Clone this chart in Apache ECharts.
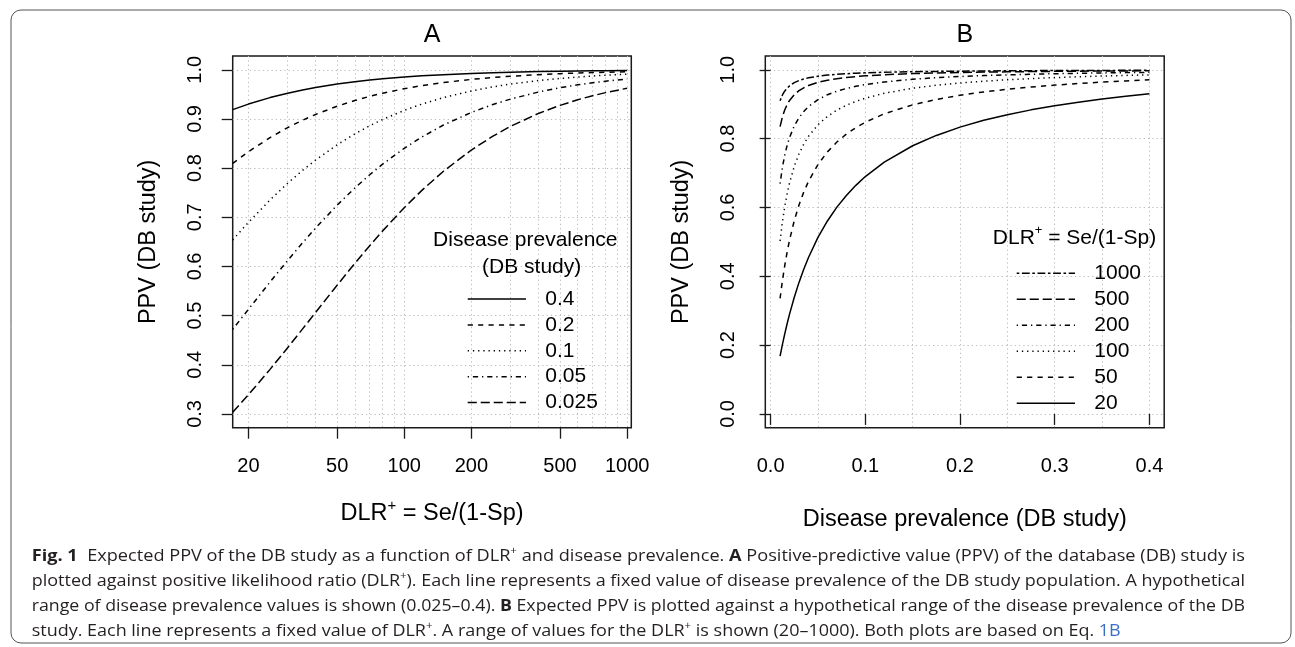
<!DOCTYPE html>
<html>
<head>
<meta charset="utf-8">
<script src="https://cdn.jsdelivr.net/npm/echarts@6/dist/echarts.min.js"></script>
<style>
html,body{margin:0;padding:0;background:#fff;}
#c{width:1295px;height:647px;}
</style>
</head>
<body>
<div id="c"></div>
<script>
// ---------------- DATA: panel A (PPV vs DLR+, one line per prevalence) ----------------
const dlrA = [17, 20, 25, 30, 35, 40, 50, 60, 70, 80, 100, 120, 150, 200, 250, 300, 400, 500, 600, 700, 800, 1000];
const prevalenceA = ['0.4', '0.2', '0.1', '0.05', '0.025'];
const ppvA_p040 = [0.9189, 0.9302, 0.9434, 0.9524, 0.9589, 0.9639, 0.9709, 0.9756, 0.9790, 0.9816, 0.9852, 0.9877, 0.9901, 0.9926, 0.9940, 0.9950, 0.9963, 0.9970, 0.9975, 0.9979, 0.9981, 0.9985];
const ppvA_p020 = [0.8095, 0.8333, 0.8621, 0.8824, 0.8974, 0.9091, 0.9259, 0.9375, 0.9459, 0.9524, 0.9615, 0.9677, 0.9740, 0.9804, 0.9843, 0.9868, 0.9901, 0.9921, 0.9934, 0.9943, 0.9950, 0.9960];
const ppvA_p010 = [0.6538, 0.6897, 0.7353, 0.7692, 0.7955, 0.8163, 0.8475, 0.8696, 0.8861, 0.8989, 0.9174, 0.9302, 0.9434, 0.9569, 0.9653, 0.9709, 0.9780, 0.9823, 0.9852, 0.9873, 0.9889, 0.9911];
const ppvA_p005 = [0.4722, 0.5128, 0.5682, 0.6122, 0.6481, 0.6780, 0.7246, 0.7595, 0.7865, 0.8081, 0.8403, 0.8633, 0.8876, 0.9132, 0.9294, 0.9404, 0.9547, 0.9634, 0.9693, 0.9736, 0.9768, 0.9813];
const ppvA_p0025 = [0.3036, 0.3390, 0.3906, 0.4348, 0.4730, 0.5063, 0.5618, 0.6061, 0.6422, 0.6723, 0.7194, 0.7547, 0.7937, 0.8368, 0.8650, 0.8850, 0.9112, 0.9276, 0.9390, 0.9472, 0.9535, 0.9625];
const tickLabelsA_x = [20, 50, 100, 200, 500, 1000];
const gridValuesA_x = [20, 30, 40, 50, 60, 70, 80, 90, 100, 200, 300, 400, 500, 600, 700, 800, 900, 1000];
const tickLabelsA_y = [0.3, 0.4, 0.5, 0.6, 0.7, 0.8, 0.9, 1.0];

// ---------------- DATA: panel B (PPV vs prevalence, one line per DLR+) ----------------
const prevB = [0.01, 0.0125, 0.015, 0.0175, 0.02, 0.025, 0.03, 0.035, 0.04, 0.05, 0.06, 0.07, 0.08, 0.09, 0.1, 0.12, 0.15, 0.175, 0.2, 0.225, 0.25, 0.275, 0.3, 0.325, 0.35, 0.375, 0.4];
const dlrNamesB = ['1000', '500', '200', '100', '50', '20'];
const ppvB_1000 = [0.9099, 0.9268, 0.9384, 0.9468, 0.9533, 0.9625, 0.9687, 0.9732, 0.9766, 0.9813, 0.9846, 0.9869, 0.9886, 0.9900, 0.9911, 0.9927, 0.9944, 0.9953, 0.9960, 0.9966, 0.9970, 0.9974, 0.9977, 0.9979, 0.9981, 0.9983, 0.9985];
const ppvB_500 = [0.8347, 0.8636, 0.8839, 0.8991, 0.9107, 0.9276, 0.9393, 0.9477, 0.9542, 0.9634, 0.9696, 0.9741, 0.9775, 0.9802, 0.9823, 0.9855, 0.9888, 0.9907, 0.9921, 0.9932, 0.9940, 0.9948, 0.9954, 0.9959, 0.9963, 0.9967, 0.9970];
const ppvB_200 = [0.6689, 0.7168, 0.7528, 0.7808, 0.8032, 0.8368, 0.8608, 0.8788, 0.8929, 0.9132, 0.9274, 0.9377, 0.9456, 0.9519, 0.9569, 0.9646, 0.9724, 0.9770, 0.9804, 0.9831, 0.9852, 0.9870, 0.9885, 0.9897, 0.9908, 0.9917, 0.9926];
const ppvB_100 = [0.5025, 0.5587, 0.6036, 0.6404, 0.6711, 0.7194, 0.7557, 0.7839, 0.8065, 0.8403, 0.8646, 0.8827, 0.8969, 0.9082, 0.9174, 0.9317, 0.9464, 0.9550, 0.9615, 0.9667, 0.9709, 0.9743, 0.9772, 0.9797, 0.9818, 0.9836, 0.9852];
const ppvB_50 = [0.3356, 0.3876, 0.4323, 0.4711, 0.5051, 0.5618, 0.6073, 0.6446, 0.6757, 0.7246, 0.7614, 0.7901, 0.8130, 0.8318, 0.8475, 0.8721, 0.8982, 0.9138, 0.9259, 0.9356, 0.9434, 0.9499, 0.9554, 0.9601, 0.9642, 0.9677, 0.9709];
const ppvB_20 = [0.1681, 0.2020, 0.2335, 0.2627, 0.2899, 0.3390, 0.3822, 0.4204, 0.4545, 0.5128, 0.5607, 0.6009, 0.6349, 0.6642, 0.6897, 0.7317, 0.7792, 0.8092, 0.8333, 0.8531, 0.8696, 0.8835, 0.8955, 0.9059, 0.9150, 0.9231, 0.9302];
const tickLabelsB_x = [0, 0.1, 0.2, 0.3, 0.4];
const gridValuesB_x = [0, 0.05, 0.1, 0.15, 0.2, 0.25, 0.3, 0.35, 0.4];
const tickLabelsB_y = [0, 0.2, 0.4, 0.6, 0.8, 1.0];

// ---------------- STYLE ----------------
const F = "'Liberation Sans', Arial, Helvetica, sans-serif";
const INK = '#1a1a1a';
const LW = 1.5;
const DASH = {
  solid: 'solid',
  dashed: [5.2, 5.2],
  dotted: [1.3, 3.9],
  dotdash: [1.3, 3.9, 5.2, 3.9],
  longdash: [9.1, 3.9],
  twodash: [2.6, 2.6, 7.8, 2.6]
};
const dashA = [DASH.solid, DASH.dashed, DASH.dotted, DASH.dotdash, DASH.longdash];
const dashB = [DASH.twodash, DASH.longdash, DASH.dotdash, DASH.dotted, DASH.dashed, DASH.solid];
const GRIDLINE = { color: '#bdbdbd', width: 1, type: [1.3, 3] };

const gridA = { left: 232.7, top: 56, width: 398.6, height: 371.7 };
const gridB = { left: 765.3, top: 56, width: 398.9, height: 371.7 };

const seriesValuesA = [ppvA_p040, ppvA_p020, ppvA_p010, ppvA_p005, ppvA_p0025];
const seriesValuesB = [ppvB_1000, ppvB_500, ppvB_200, ppvB_100, ppvB_50, ppvB_20];

const series = [];
prevalenceA.forEach((name, k) => {
  series.push({
    type: 'line', name: name, xAxisIndex: 0, yAxisIndex: 0,
    data: dlrA.map((x, i) => [Math.log10(x), seriesValuesA[k][i]]),
    symbol: 'none', smooth: false, silent: true, z: 5,
    lineStyle: { color: '#000', width: LW, type: dashA[k], cap: 'butt', join: 'round' }
  });
});
dlrNamesB.forEach((name, k) => {
  series.push({
    type: 'line', name: name, xAxisIndex: 2, yAxisIndex: 1,
    data: prevB.map((x, i) => [x, seriesValuesB[k][i]]),
    symbol: 'none', smooth: false, silent: true, z: 5,
    lineStyle: { color: '#000', width: LW, type: dashB[k], cap: 'butt', join: 'round' }
  });
});

const tickStyle = { length: 11, lineStyle: { color: INK, width: 1.3 } };
const labelStyle = { fontSize: 20, fontFamily: F, color: '#000' };
const nameRich = {
  n: { fontSize: 23.5, fontFamily: F, color: '#000', lineHeight: 30 },
  s: { fontSize: 15, fontFamily: F, color: '#000', lineHeight: 10, verticalAlign: 'top' }
};

function mainX(gridIndex, min, max, ticks, fmt, name, gap) {
  return {
    gridIndex, type: 'value', min, max, position: 'bottom',
    axisLine: { show: false },
    axisTick: Object.assign({ show: true, customValues: ticks }, tickStyle),
    axisLabel: Object.assign({ customValues: ticks, formatter: fmt, margin: 29 }, labelStyle),
    splitLine: { show: false },
    name, nameLocation: 'middle', nameGap: gap,
    nameTextStyle: { fontSize: 23.5, fontFamily: F, color: '#000', rich: nameRich }
  };
}
function helperX(gridIndex, min, max, values) {
  return {
    gridIndex, type: 'value', min, max, position: 'bottom',
    axisLine: { show: false },
    axisTick: { show: false, customValues: values },
    axisLabel: { show: false },
    splitLine: { show: true, customValues: values, lineStyle: GRIDLINE }
  };
}
function mainY(gridIndex, min, max, ticks, name) {
  return {
    gridIndex, type: 'value', min, max, position: 'left',
    axisLine: { show: false },
    axisTick: Object.assign({ show: true, customValues: ticks }, tickStyle),
    axisLabel: Object.assign({ customValues: ticks, formatter: v => v.toFixed(1), rotate: 90, margin: 27 }, labelStyle),
    splitLine: { show: true, customValues: ticks, lineStyle: GRIDLINE },
    name, nameLocation: 'middle', nameGap: 72,
    nameTextStyle: { fontSize: 23.5, fontFamily: F, color: '#000' }
  };
}

const logMinA = Math.log10(17), logMaxA = Math.log10(1044);

// ---------------- legends (drawn from the same names/styles) ----------------
const graphics = [];
graphics.push({
  type: 'rect', silent: true, z: 0,
  shape: { x: 11, y: 10, width: 1280, height: 633, r: 10 },
  style: { fill: 'none', stroke: '#555', lineWidth: 1 }
});
function legendText(x, y, text, align, rich) {
  return { type: 'text', x, y, silent: true, z: 10,
    style: { text, fill: '#000', font: '21px ' + F, align: align || 'left', verticalAlign: 'middle', rich } };
}
graphics.push(legendText(525.3, 240.7, 'Disease prevalence', 'center'));
graphics.push(legendText(531.7, 267.3, '(DB study)', 'center'));
prevalenceA.forEach((name, k) => {
  const y = 299 + 25.9 * k;
  graphics.push({ type: 'line', silent: true, z: 10,
    shape: { x1: 467.7, y1: y, x2: 526, y2: y },
    style: { stroke: '#000', lineWidth: LW, lineDash: dashA[k] === 'solid' ? null : dashA[k] } });
  graphics.push(legendText(545.3, y, name));
});
graphics.push(legendText(1074.5, 238.3, '{n|DLR}{s|+}{n| = Se/(1-Sp)}', 'center', {
  n: { fontSize: 21, fontFamily: F, fill: '#000', lineHeight: 28 },
  s: { fontSize: 13, fontFamily: F, fill: '#000', lineHeight: 9, verticalAlign: 'top' }
}));
dlrNamesB.forEach((name, k) => {
  const y = 273.3 + 26 * k;
  graphics.push({ type: 'line', silent: true, z: 10,
    shape: { x1: 1016.7, y1: y, x2: 1075, y2: y },
    style: { stroke: '#000', lineWidth: LW, lineDash: dashB[k] === 'solid' ? null : dashB[k] } });
  graphics.push(legendText(1094.3, y, name));
});

// ---------------- caption ----------------
const captionLines = [
  [['b', 'Fig. 1'], ['n', '  Expected PPV of the DB study as a function of DLR'], ['s', '+'], ['n', ' and disease prevalence. '], ['b', 'A'], ['n', ' Positive-predictive value (PPV) of the database (DB) study is']],
  [['n', 'plotted against positive likelihood ratio (DLR'], ['s', '+'], ['n', '). Each line represents a fixed value of disease prevalence of the DB study population. A hypothetical']],
  [['n', 'range of disease prevalence values is shown (0.025–0.4). '], ['b', 'B'], ['n', ' Expected PPV is plotted against a hypothetical range of the disease prevalence of the DB']],
  [['n', 'study. Each line represents a fixed value of DLR'], ['s', '+'], ['n', '. A range of values for the DLR'], ['s', '+'], ['n', ' is shown (20–1000). Both plots are based on Eq. '], ['l', '1B']]
];
const CF = "'Open Sans', 'Noto Sans', sans-serif";
const CAP = { size: 16.5, sup: 10.5, color: '#231f20', link: '#3b6fc7', x: 31.7, right: 1245, y0: 556, dy: 25 };
const capFonts = {
  n: CAP.size + 'px ' + CF,
  b: 'bold ' + CAP.size + 'px ' + CF,
  s: CAP.sup + 'px ' + CF,
  l: CAP.size + 'px ' + CF
};
const mctx = document.createElement('canvas').getContext('2d');
function lineWidthOf(segs) {
  let w = 0;
  segs.forEach(([k, t]) => { mctx.font = capFonts[k]; w += mctx.measureText(t).width; });
  return w;
}
const capRich = {
  n: { fontSize: CAP.size, fontFamily: CF, fill: CAP.color, lineHeight: 21 },
  b: { fontSize: CAP.size, fontFamily: CF, fontWeight: 'bold', fill: CAP.color, lineHeight: 21 },
  s: { fontSize: CAP.sup, fontFamily: CF, fill: CAP.color, lineHeight: 8, verticalAlign: 'top' },
  l: { fontSize: CAP.size, fontFamily: CF, fill: CAP.link, lineHeight: 21 }
};
const scales = captionLines.map(segs => (CAP.right - CAP.x) / lineWidthOf(segs));
const avgScale = (scales[0] + scales[1] + scales[2]) / 3;
captionLines.forEach((segs, i) => {
  const text = segs.map(([k, t]) => '{' + k + '|' + t + '}').join('');
  graphics.push({
    type: 'text', x: CAP.x, y: CAP.y0 + CAP.dy * i, silent: true, z: 10,
    scaleX: i < 3 ? scales[i] : avgScale,
    style: { text, rich: capRich, align: 'left', verticalAlign: 'middle', fill: CAP.color, font: capFonts.n }
  });
});

const option = {
  animation: false,
  backgroundColor: '#fff',
  textStyle: { fontFamily: F },
  title: [
    { text: 'A', left: 432, top: 23, textAlign: 'center', padding: 0, textStyle: { fontSize: 25, fontWeight: 'normal', fontFamily: F, color: '#000' } },
    { text: 'B', left: 964.8, top: 23, textAlign: 'center', padding: 0, textStyle: { fontSize: 25, fontWeight: 'normal', fontFamily: F, color: '#000' } }
  ],
  grid: [
    Object.assign({ show: true, borderColor: INK, borderWidth: 1.5, backgroundColor: 'transparent', containLabel: false }, gridA),
    Object.assign({ show: true, borderColor: INK, borderWidth: 1.5, backgroundColor: 'transparent', containLabel: false }, gridB)
  ],
  xAxis: [
    mainX(0, logMinA, logMaxA, tickLabelsA_x.map(v => Math.log10(v)), v => String(Math.round(Math.pow(10, v))), '{n|DLR}{s|+}{n| = Se/(1-Sp)}', 71),
    helperX(0, logMinA, logMaxA, gridValuesA_x.map(v => Math.log10(v))),
    mainX(1, -0.0056, 0.4156, tickLabelsB_x, v => v.toFixed(1), 'Disease prevalence (DB study)', 80),
    helperX(1, -0.0056, 0.4156, gridValuesB_x)
  ],
  yAxis: [
    mainY(0, 0.272, 1.028, tickLabelsA_y, 'PPV (DB study)'),
    mainY(1, -0.04, 1.04, tickLabelsB_y, 'PPV (DB study)')
  ],
  series,
  graphic: { elements: graphics }
};

const chart = echarts.init(document.getElementById('c'), null, { renderer: 'canvas', width: 1295, height: 647 });
chart.setOption(option);
</script>
</body>
</html>
